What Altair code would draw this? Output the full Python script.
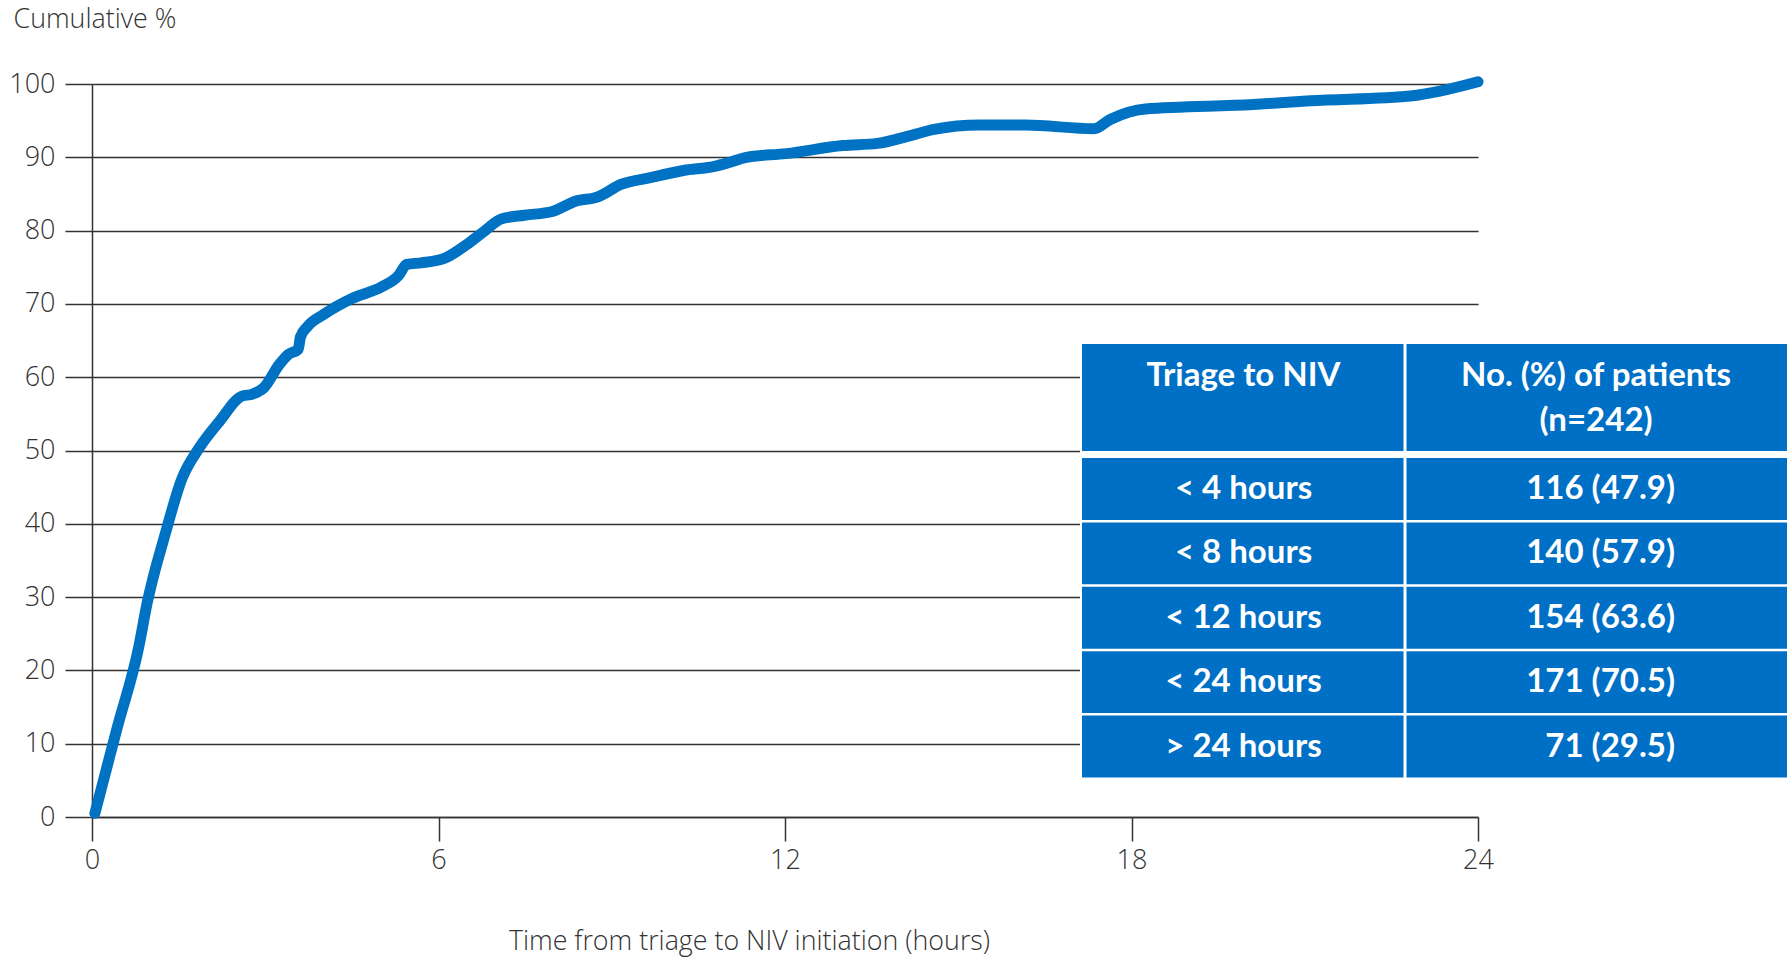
import altair as alt
import pandas as pd

# Cumulative share of patients started on NIV, by hours since triage
hours = [0.05, 0.43, 0.81, 0.95, 1.26, 1.56, 1.86, 2.21, 2.59, 2.78, 2.98, 3.24,
         3.40, 3.57, 3.61, 3.73, 4.02, 4.52, 5.01, 5.31, 5.45, 5.70, 6.10, 6.49,
         6.79, 7.09, 7.49, 7.97, 8.37, 8.76, 9.16, 9.65, 10.24, 10.80, 11.03, 11.33,
         12.02, 13.0, 13.6, 14.19, 14.58, 15.37, 16.16, 17.35, 17.64, 18.24, 20.11,
         21.10, 22.87, 24.0]
cum_pct = [0.5, 12.0, 23.2, 29.0, 38.4, 46.2, 50.4, 54.0, 57.4, 57.7, 58.6, 61.7,
           63.1, 63.8, 65.5, 66.9, 68.6, 70.8, 72.3, 73.9, 75.4, 75.6, 76.2, 78.1,
           79.9, 81.6, 82.1, 82.6, 84.0, 84.6, 86.3, 87.2, 88.2, 88.8, 89.3, 90.0,
           90.5, 91.6, 91.9, 93.0, 93.8, 94.4, 94.4, 93.9, 95.2, 96.6, 97.2,
           97.7, 98.4, 100.3]

# Summary table
table_header_left = ["Triage to NIV"]
table_header_right = ["No. (%) of patients", "(n=242)"]
triage_bands = ["< 4 hours", "< 8 hours", "< 12 hours", "< 24 hours", "> 24 hours"]
patient_counts = [116, 140, 154, 171, 71]
patient_pcts = [47.9, 57.9, 63.6, 70.5, 29.5]

BLUE = "#0070C6"
LINE_BLUE = "#0072C4"
INK = "#333333"
AXIS_FONT = "Open Sans"
TABLE_FONT = "Lato"

# Table layout (pixels from the plot's top-left corner)
T_LEFT, T_SPLIT, T_RIGHT = 990, 1313, 1700
COL_GAP = 3
H_TOP, H_BOTTOM = 260, 367
B_TOP, ROW_H, ROW_GAP = 374, 64.4, 2.5
VALUE_RIGHT = 1583

curve = pd.DataFrame({"hours": hours, "pct": cum_pct})

line = alt.Chart(curve).mark_line(
    color=LINE_BLUE, strokeWidth=11, strokeCap="round", strokeJoin="round",
    interpolate="monotone"
).encode(
    x=alt.X("hours:Q",
            scale=alt.Scale(domain=[0, 24], nice=False),
            axis=alt.Axis(values=[0, 6, 12, 18, 24], grid=False,
                          title="Time from triage to NIV initiation (hours)",
                          titleX=657, titleY=124, titleAnchor="start",
                          titleAlign="center", titleBaseline="middle",
                          titleFont=AXIS_FONT, titleFontSize=26.8,
                          titleFontWeight=300, titleColor=INK,
                          labelFont=AXIS_FONT, labelFontSize=27, labelColor=INK,
                          labelFontWeight=300,
                          labelFlush=False, labelPadding=6, tickSize=24,
                          tickColor=INK, tickWidth=1.5, domainColor=INK,
                          domainWidth=1.5)),
    y=alt.Y("pct:Q",
            scale=alt.Scale(domain=[0, 100], nice=False),
            axis=alt.Axis(values=list(range(0, 101, 10)), grid=True,
                          gridColor=INK, gridWidth=1.5,
                          title="Cumulative %", titleAngle=0,
                          titleX=-79, titleY=-65, titleAlign="left",
                          titleBaseline="middle", titleFont=AXIS_FONT,
                          titleFontSize=26.8, titleFontWeight=300,
                          titleColor=INK,
                          labelFont=AXIS_FONT, labelFontSize=27, labelColor=INK,
                          labelFontWeight=300,
                          labelFlush=False, labelPadding=10, tickSize=27,
                          tickColor=INK, tickWidth=1.5, domainColor=INK,
                          domainWidth=1.5)),
)

# Table cells
cells = []
cells.append({"x0": T_LEFT, "x1": T_SPLIT - COL_GAP / 2, "y0": H_TOP, "y1": H_BOTTOM})
cells.append({"x0": T_SPLIT + COL_GAP / 2, "x1": T_RIGHT, "y0": H_TOP, "y1": H_BOTTOM})
for i in range(len(triage_bands)):
    top = B_TOP + i * ROW_H
    bottom = top + ROW_H - ROW_GAP
    cells.append({"x0": T_LEFT, "x1": T_SPLIT - COL_GAP / 2, "y0": top, "y1": bottom})
    cells.append({"x0": T_SPLIT + COL_GAP / 2, "x1": T_RIGHT, "y0": top, "y1": bottom})
cells_df = pd.DataFrame(cells)

backdrop = alt.Chart(pd.DataFrame([{"x0": T_LEFT - 2, "x1": T_RIGHT,
                                    "y0": H_TOP - 2, "y1": B_TOP + 5 * ROW_H + 2}])
                     ).mark_rect(color="white").encode(
    x=alt.X("x0:Q", scale=None, axis=None), x2="x1:Q",
    y=alt.Y("y0:Q", scale=None, axis=None), y2="y1:Q")

cell_rects = alt.Chart(cells_df).mark_rect(color=BLUE).encode(
    x=alt.X("x0:Q", scale=None, axis=None), x2="x1:Q",
    y=alt.Y("y0:Q", scale=None, axis=None), y2="y1:Q")

left_cx = (T_LEFT + T_SPLIT) / 2
right_cx = (T_SPLIT + 1695) / 2

# Headers and band labels are centred; counts are right-aligned in their column
texts = []
texts.append({"tx": left_cx, "ty": 292, "label": table_header_left[0]})
texts.append({"tx": right_cx, "ty": 292, "label": table_header_right[0]})
texts.append({"tx": right_cx, "ty": 337, "label": table_header_right[1]})
for i, band in enumerate(triage_bands):
    cy = B_TOP + i * ROW_H + (ROW_H - ROW_GAP) / 2
    texts.append({"tx": left_cx, "ty": cy, "label": band})
texts_df = pd.DataFrame(texts)

values = []
for i, (n, p) in enumerate(zip(patient_counts, patient_pcts)):
    cy = B_TOP + i * ROW_H + (ROW_H - ROW_GAP) / 2
    values.append({"tx": VALUE_RIGHT, "ty": cy, "label": f"{n} ({p})"})
values_df = pd.DataFrame(values)

text_style = dict(color="white", font=TABLE_FONT, fontSize=33, fontWeight="bold",
                  baseline="middle")

cell_text = alt.Chart(texts_df).mark_text(align="center", **text_style).encode(
    x=alt.X("tx:Q", scale=None, axis=None),
    y=alt.Y("ty:Q", scale=None, axis=None),
    text="label:N")

value_text = alt.Chart(values_df).mark_text(align="right", **text_style).encode(
    x=alt.X("tx:Q", scale=None, axis=None),
    y=alt.Y("ty:Q", scale=None, axis=None),
    text="label:N")

table = alt.layer(backdrop, cell_rects, cell_text, value_text)

chart = alt.layer(line, table).resolve_scale(
    x="independent", y="independent"
).properties(
    width=1386, height=733,
    autosize=alt.AutoSizeParams(type="none"),
    padding={"left": 92, "top": 84, "right": 309, "bottom": 140},
).configure(background="white", view=alt.ViewConfig(stroke=None))

chart.save("out.html", embed_options={"renderer": "svg", "actions": False})
